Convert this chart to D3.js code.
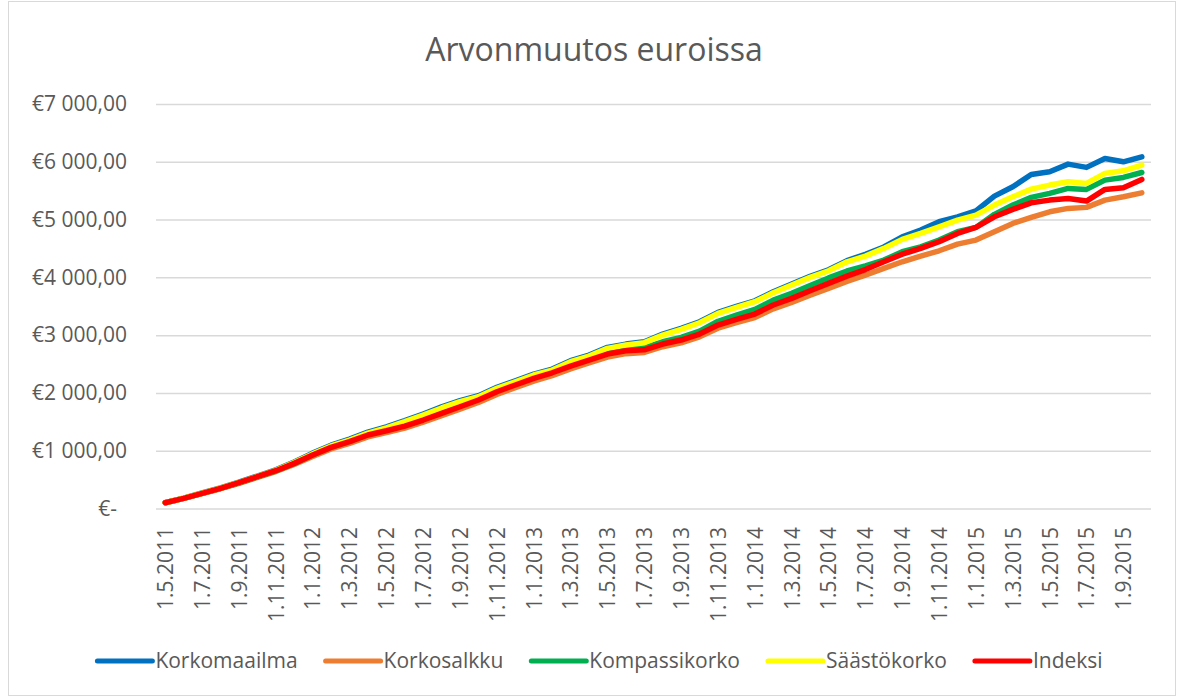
<!DOCTYPE html>
<html>
<head>
<meta charset="utf-8">
<script src="https://cdn.jsdelivr.net/npm/d3@7"></script>
<style>
  html, body { margin: 0; padding: 0; background: #fff; }
  svg text { font-family: "Open Sans", sans-serif; fill: #595959; }
</style>
</head>
<body>
<svg id="chart" width="1186" height="698"></svg>
<script>
// monthly dates 1.5.2011 ... 1.10.2015
const dates = [
  "1.5.2011","1.6.2011","1.7.2011","1.8.2011","1.9.2011","1.10.2011","1.11.2011","1.12.2011",
  "1.1.2012","1.2.2012","1.3.2012","1.4.2012","1.5.2012","1.6.2012","1.7.2012","1.8.2012","1.9.2012","1.10.2012","1.11.2012","1.12.2012",
  "1.1.2013","1.2.2013","1.3.2013","1.4.2013","1.5.2013","1.6.2013","1.7.2013","1.8.2013","1.9.2013","1.10.2013","1.11.2013","1.12.2013",
  "1.1.2014","1.2.2014","1.3.2014","1.4.2014","1.5.2014","1.6.2014","1.7.2014","1.8.2014","1.9.2014","1.10.2014","1.11.2014","1.12.2014",
  "1.1.2015","1.2.2015","1.3.2015","1.4.2015","1.5.2015","1.6.2015","1.7.2015","1.8.2015","1.9.2015","1.10.2015"
];

const korkomaailma = [100,180,268,356,455,562,670,805,958,1095,1200,1322,1412,1520,1636,1758,1866,1952,2096,2211,
  2327,2413,2557,2655,2788,2845,2887,3017,3117,3231,3394,3498,3595,3751,3884,4018,4132,4290,4400,4525,
  4702,4818,4962,5048,5152,5406,5567,5781,5827,5960,5903,6058,6000,6086];
const korkosalkku = [100,174,258,342,436,538,640,762,900,1030,1128,1240,1312,1392,1495,1608,1720,1835,1975,2090,
  2205,2300,2415,2518,2620,2680,2700,2800,2868,2970,3120,3215,3305,3455,3568,3690,3810,3930,4040,4155,
  4270,4368,4460,4576,4645,4789,4934,5038,5135,5193,5211,5337,5394,5463];
const kompassikorko = [100,176,262,348,444,548,652,780,925,1060,1160,1278,1352,1437,1543,1660,1775,1892,2038,2155,
  2272,2370,2488,2594,2700,2760,2780,2885,2960,3070,3240,3345,3445,3605,3725,3860,3990,4110,4200,4299,
  4443,4529,4645,4789,4865,5090,5251,5384,5453,5539,5522,5683,5729,5815];
const saastokorko = [100,178,265,352,450,556,662,795,945,1082,1185,1305,1395,1502,1618,1740,1848,1934,2079,2194,
  2310,2396,2540,2638,2771,2828,2870,3000,3100,3214,3377,3481,3578,3734,3867,4000,4114,4270,4368,4501,
  4657,4761,4875,4991,5078,5251,5394,5527,5597,5654,5626,5799,5844,5943];
const indeksi = [100,176,263,349,446,550,654,781,925,1058,1156,1272,1345,1427,1531,1647,1761,1877,2021,2137,
  2252,2349,2465,2569,2673,2730,2746,2846,2915,3019,3175,3273,3365,3521,3637,3768,3896,4022,4135,4270,
  4400,4501,4616,4761,4865,5048,5176,5290,5337,5366,5320,5522,5550,5695];

const seriesNames = ["Korkomaailma", "Korkosalkku", "Kompassikorko", "Säästökorko", "Indeksi"];
const seriesValues = [korkomaailma, korkosalkku, kompassikorko, saastokorko, indeksi];
const seriesColors = ["#0070C0", "#ED7D31", "#00B050", "#FFFF00", "#FF0000"];
const yTicks = [0, 1000, 2000, 3000, 4000, 5000, 6000, 7000];

const svg = d3.select("#chart");
const plot = { left: 156, right: 1151, top: 104, bottom: 508.5 };

// chart border
svg.append("rect")
  .attr("x", 8.5).attr("y", 1.5)
  .attr("width", 1167).attr("height", 694)
  .attr("fill", "#fff")
  .attr("stroke", "#d9d9d9")
  .attr("stroke-width", 1);

// title
svg.append("text")
  .attr("x", 594)
  .attr("y", 61)
  .attr("text-anchor", "middle")
  .attr("font-size", 32)
  .text("Arvonmuutos euroissa");

const x = d3.scalePoint()
  .domain(dates)
  .range([plot.left, plot.right])
  .padding(0.5);

const y = d3.scaleLinear()
  .domain([0, 7000])
  .range([plot.bottom, plot.top]);

const fi = d3.formatLocale({ decimal: ",", thousands: " ", grouping: [3], currency: ["€", ""] });
const euro = fi.format("$,.2f");

// y axis + gridlines
const yAxis = svg.append("g")
  .attr("transform", `translate(${plot.left},0)`)
  .call(d3.axisLeft(y)
    .tickValues(yTicks)
    .tickSize(-(plot.right - plot.left))
    .tickPadding(29)
    .tickFormat(d => d === 0 ? "€-" : euro(d)));
yAxis.select(".domain").remove();
yAxis.selectAll(".tick line").attr("stroke", "#d9d9d9").attr("stroke-width", 1.5);
yAxis.selectAll(".tick text")
  .attr("font-size", 21)
  .attr("fill", "#595959")
  .attr("font-family", "Open Sans, sans-serif")
  .attr("dx", d => d === 0 ? -10 : 0);

// x axis labels, every second month
const xAxis = svg.append("g")
  .attr("transform", `translate(0,${plot.bottom})`)
  .call(d3.axisBottom(x)
    .tickValues(dates.filter((d, i) => i % 2 === 0))
    .tickSize(0));
xAxis.select(".domain").remove();
xAxis.selectAll(".tick text")
  .attr("font-size", 21)
  .attr("fill", "#595959")
  .attr("font-family", "Open Sans, sans-serif")
  .attr("transform", "rotate(-90)")
  .attr("text-anchor", "end")
  .attr("x", -18.5)
  .attr("y", 0)
  .attr("dy", "0.35em");

// lines
const line = d3.line()
  .x((d, i) => x(dates[i]))
  .y(d => y(d));

svg.append("g").selectAll("path")
  .data(seriesValues)
  .join("path")
  .attr("d", line)
  .attr("fill", "none")
  .attr("stroke", (d, i) => seriesColors[i])
  .attr("stroke-width", 5.5)
  .attr("stroke-linejoin", "round")
  .attr("stroke-linecap", "round");

// legend (flow layout, centred)
const legend = svg.append("g");
const legY = 661;
const items = legend.selectAll("g")
  .data(seriesNames)
  .join("g");
items.append("line")
  .attr("x1", 0).attr("x2", 55)
  .attr("y1", legY).attr("y2", legY)
  .attr("stroke", (d, i) => seriesColors[i])
  .attr("stroke-width", 5)
  .attr("stroke-linecap", "round");
items.append("text")
  .attr("x", 58)
  .attr("y", legY)
  .attr("dy", "0.35em")
  .attr("font-size", 21)
  .text(d => d);

let cursor = 0;
items.each(function() {
  const g = d3.select(this);
  g.attr("transform", `translate(${cursor},0)`);
  cursor += 58 + g.select("text").node().getComputedTextLength() + 28;
});
const total = cursor - 28;
legend.attr("transform", `translate(${600 - total / 2},0)`);
</script>
</body>
</html>
